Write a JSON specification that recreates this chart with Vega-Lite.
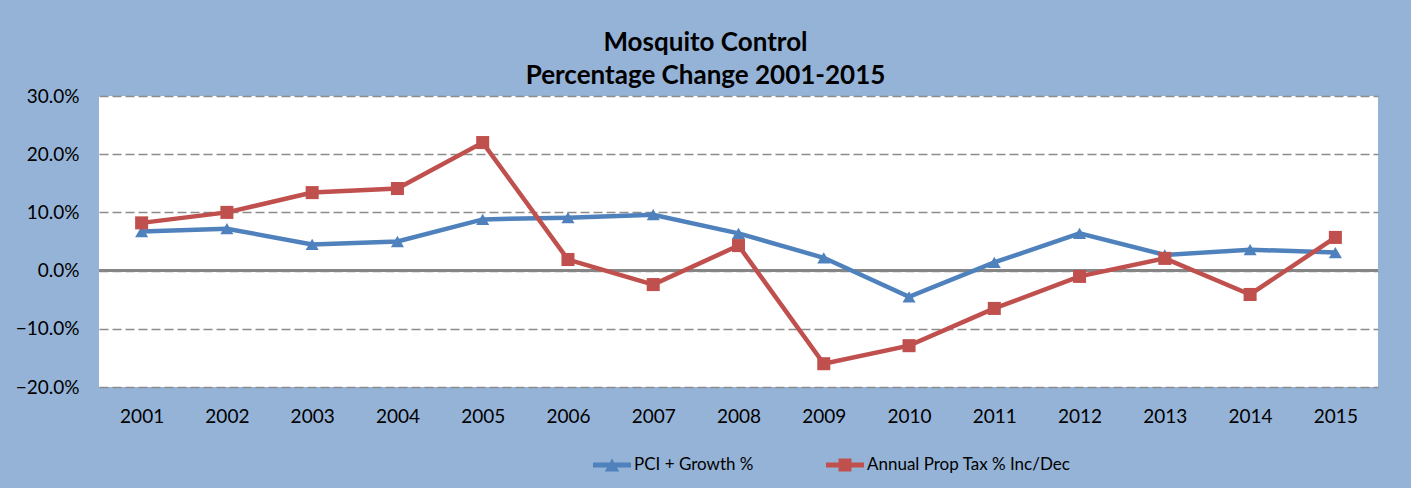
{
  "$schema": "https://vega.github.io/schema/vega-lite/v6.json",
  "width": 1279,
  "height": 291,
  "autosize": {"type": "none"},
  "padding": {"left": 99, "top": 96, "right": 33, "bottom": 101},
  "background": "#95B3D7",
  "config": {
    "font": "Lato",
    "view": {"fill": "white", "stroke": null}
  },
  "title": {
    "text": ["Mosquito Control", "Percentage Change 2001-2015"],
    "font": "Lato",
    "fontSize": 26,
    "fontWeight": "bold",
    "color": "black",
    "lineHeight": 33,
    "anchor": "middle",
    "dx": -33,
    "offset": -2
  },
  "data": {
    "values": [
      {"year": "2001", "series": "PCI + Growth %", "value": 0.067},
      {"year": "2002", "series": "PCI + Growth %", "value": 0.072},
      {"year": "2003", "series": "PCI + Growth %", "value": 0.045},
      {"year": "2004", "series": "PCI + Growth %", "value": 0.050},
      {"year": "2005", "series": "PCI + Growth %", "value": 0.088},
      {"year": "2006", "series": "PCI + Growth %", "value": 0.091},
      {"year": "2007", "series": "PCI + Growth %", "value": 0.096},
      {"year": "2008", "series": "PCI + Growth %", "value": 0.064},
      {"year": "2009", "series": "PCI + Growth %", "value": 0.022},
      {"year": "2010", "series": "PCI + Growth %", "value": -0.045},
      {"year": "2011", "series": "PCI + Growth %", "value": 0.014},
      {"year": "2012", "series": "PCI + Growth %", "value": 0.064},
      {"year": "2013", "series": "PCI + Growth %", "value": 0.027},
      {"year": "2014", "series": "PCI + Growth %", "value": 0.036},
      {"year": "2015", "series": "PCI + Growth %", "value": 0.031},
      {"year": "2001", "series": "Annual Prop Tax % Inc/Dec", "value": 0.082},
      {"year": "2002", "series": "Annual Prop Tax % Inc/Dec", "value": 0.100},
      {"year": "2003", "series": "Annual Prop Tax % Inc/Dec", "value": 0.134},
      {"year": "2004", "series": "Annual Prop Tax % Inc/Dec", "value": 0.141},
      {"year": "2005", "series": "Annual Prop Tax % Inc/Dec", "value": 0.220},
      {"year": "2006", "series": "Annual Prop Tax % Inc/Dec", "value": 0.019},
      {"year": "2007", "series": "Annual Prop Tax % Inc/Dec", "value": -0.024},
      {"year": "2008", "series": "Annual Prop Tax % Inc/Dec", "value": 0.043},
      {"year": "2009", "series": "Annual Prop Tax % Inc/Dec", "value": -0.160},
      {"year": "2010", "series": "Annual Prop Tax % Inc/Dec", "value": -0.129},
      {"year": "2011", "series": "Annual Prop Tax % Inc/Dec", "value": -0.065},
      {"year": "2012", "series": "Annual Prop Tax % Inc/Dec", "value": -0.010},
      {"year": "2013", "series": "Annual Prop Tax % Inc/Dec", "value": 0.021},
      {"year": "2014", "series": "Annual Prop Tax % Inc/Dec", "value": -0.041},
      {"year": "2015", "series": "Annual Prop Tax % Inc/Dec", "value": 0.057}
    ]
  },
  "encoding": {
    "x": {
      "field": "year",
      "type": "ordinal",
      "scale": {"type": "point", "padding": 0.5},
      "axis": {
        "title": null,
        "labelAngle": 0,
        "labelFont": "Lato",
        "labelFontSize": 19,
        "labelColor": "black",
        "labelPadding": 20,
        "domain": false,
        "ticks": false,
        "grid": false
      }
    },
    "y": {
      "field": "value",
      "type": "quantitative",
      "scale": {"domain": [-0.2, 0.3], "nice": false, "zero": false},
      "axis": {
        "title": null,
        "format": ".1%",
        "values": [-0.2, -0.1, 0, 0.1, 0.2, 0.3],
        "labelFont": "Lato",
        "labelFontSize": 19,
        "labelColor": "black",
        "labelPadding": 20,
        "domain": false,
        "ticks": false,
        "grid": true,
        "gridColor": "#8C8C8C",
        "gridWidth": 1.5,
        "gridDash": [9, 4]
      }
    }
  },
  "layer": [
    {
      "mark": {"type": "rule", "color": "#868686", "strokeWidth": 2},
      "encoding": {"y": {"datum": 0}, "x": {"value": 0}, "x2": {"value": 1279}}
    },
    {
      "mark": {"type": "line", "strokeWidth": 4.5},
      "encoding": {
        "color": {
          "field": "series",
          "type": "nominal",
          "sort": ["PCI + Growth %", "Annual Prop Tax % Inc/Dec"],
          "scale": {"domain": ["PCI + Growth %", "Annual Prop Tax % Inc/Dec"], "range": ["#4F81BD", "#C0504D"]},
          "legend": {
            "title": null,
            "orient": "none",
            "direction": "horizontal",
            "legendX": 494,
            "legendY": 350,
            "symbolSize": 1444,
            "symbolType": "circle",
            "labelFont": "Lato",
            "labelFontSize": 17,
            "labelColor": "black",
            "labelOffset": 3,
            "labelLimit": 0,
            "columnPadding": 72,
            "encode": {
              "symbols": {
                "update": {
                  "shape": {"signal": "datum.value === 'PCI + Growth %' ? 'M-1,-0.13H1V0.13H-1Z M-0.38,0.34L0,-0.34L0.38,0.34Z' : 'M-1,-0.13H1V0.13H-1Z M-0.34,-0.34H0.34V0.34H-0.34Z'"},
                  "fill": {"signal": "datum.value === 'PCI + Growth %' ? '#4F81BD' : '#C0504D'"},
                  "stroke": {"signal": "datum.value === 'PCI + Growth %' ? '#4F81BD' : '#C0504D'"},
                  "strokeWidth": {"value": 0},
                  "opacity": {"value": 1}
                }
              }
            }
          }
        }
      }
    },
    {
      "transform": [{"filter": "datum.series === 'PCI + Growth %'"}],
      "mark": {"type": "point", "shape": "triangle-up", "filled": true, "opacity": 1, "size": 170},
      "encoding": {
        "color": {"field": "series", "type": "nominal", "legend": null}
      }
    },
    {
      "transform": [{"filter": "datum.series === 'Annual Prop Tax % Inc/Dec'"}],
      "mark": {"type": "point", "shape": "square", "filled": true, "opacity": 1, "size": 170},
      "encoding": {
        "color": {"field": "series", "type": "nominal", "legend": null}
      }
    }
  ]
}
